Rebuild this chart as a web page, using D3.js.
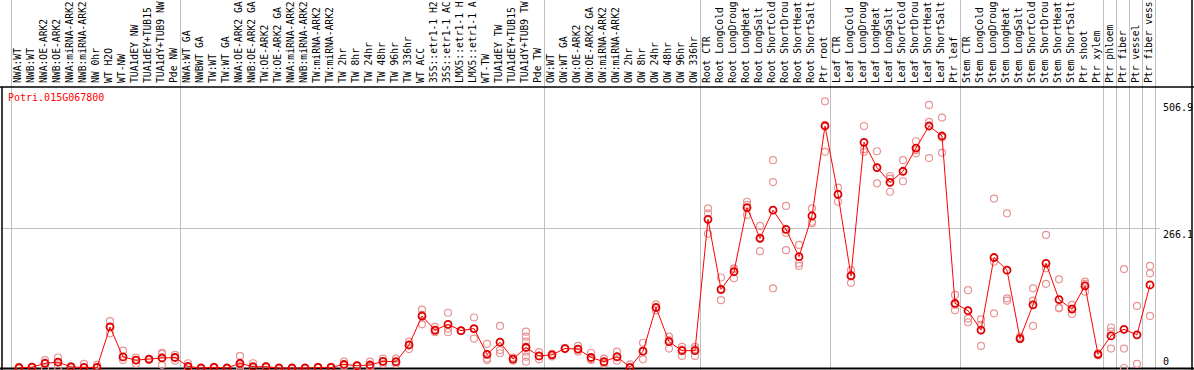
<!DOCTYPE html>
<html>
<head>
<meta charset="utf-8">
<script src="https://cdn.jsdelivr.net/npm/d3@7"></script>
<style>
body { margin: 0; background: #fff; }
svg { display: block; }
.lbl { font-family: 'DejaVu Sans Mono', monospace; font-size: 9.7px; fill: #000; }
.tick-lbl { font-family: 'DejaVu Sans Mono', monospace; font-size: 10px; fill: #000; }
.sep { stroke: #c0c0c0; stroke-width: 1; }
.border { stroke: #000; stroke-width: 1.5; }
</style>
</head>
<body>
<svg width="1194" height="370"></svg>
<script>
//Sample names, left to right (the chart shows at most 14 characters of each).
var labels = ['NWA:WT', 'NWB:WT', 'NWA:OE-ARK2', 'NWB:OE-ARK2', 'NWA:miRNA-ARK2', 'NWB:miRNA-ARK2',
	'NW 0hr', 'WT H2O', 'WT-NW', 'TUA1dEY NW', 'TUA1dEY+TUB15', 'TUA1dY+TUB9 NW', 'Pde NW',
	'NWA:WT GA', 'NWBWT GA', 'TW:WT', 'TW:WT GA', 'NWA:OE-ARK2 GA', 'NWB:OE-ARK2 GA', 'TW:OE-ARK2',
	'TW:OE-ARK2 GA', 'NWA:miRNA-ARK2 GA', 'NWB:miRNA-ARK2 GA', 'TW:miRNA-ARK2', 'TW:miRNA-ARK2 GA',
	'TW 2hr', 'TW 8hr', 'TW 24hr', 'TW 48hr', 'TW 96hr', 'TW 336hr', 'WT ACC', '35S::etr1-1 H2O', '35S::etr1-1 ACC',
	'LMX5::etr1-1 H2O', 'LMX5::etr1-1 ACC', 'WT-TW', 'TUA1dEY TW', 'TUA1dEY+TUB15', 'TUA1dY+TUB9 TW', 'Pde TW',
	'OW:WT', 'OW:WT GA', 'OW:OE-ARK2', 'OW:OE-ARK2 GA', 'OW:miRNA-ARK2', 'OW:miRNA-ARK2 GA',
	'OW 2hr', 'OW 8hr', 'OW 24hr', 'OW 48hr', 'OW 96hr', 'OW 336hr',
	'Root CTR', 'Root LongCold', 'Root LongDrought', 'Root LongHeat', 'Root LongSalt', 'Root ShortCold',
	'Root ShortDrought', 'Root ShortHeat', 'Root ShortSalt', 'Ptr root',
	'Leaf CTR', 'Leaf LongCold', 'Leaf LongDrought', 'Leaf LongHeat', 'Leaf LongSalt', 'Leaf ShortCold',
	'Leaf ShortDrought', 'Leaf ShortHeat', 'Leaf ShortSalt', 'Ptr leaf',
	'Stem CTR', 'Stem LongCold', 'Stem LongDrought', 'Stem LongHeat', 'Stem LongSalt', 'Stem ShortCold',
	'Stem ShortDrought', 'Stem ShortHeat', 'Stem ShortSalt', 'Ptr shoot',
	'Ptr xylem', 'Ptr phloem', 'Ptr fiber', 'Ptr vessel', 'Ptr fiber vessel'];
var labelChars = 14;

//Number of samples in each experiment block.
var groupSizes = [13, 28, 12, 10, 10, 11, 1, 1, 1, 1];

//Mean expression for each sample.
var means = [0.5, 1.5, 9, 11, 2, 1, 1, 78, 21, 15, 17, 19, 20,
	3, 0, 1.3, 0, 9, 2.5, 2.5, 0, 0, 0, 1, 1, 7, 4.4, 5.7, 12.7, 12, 43.7, 98.8, 72, 83, 71, 75, 26, 49, 17, 39, 23,
	25, 37, 36, 20, 12, 21.5, 1.3, 32, 115, 50, 33, 33,
	282.6, 149.5, 183, 305, 246.5, 300, 263.6, 211.6, 289, 460,
	330, 175, 429, 381, 353, 374, 418, 460, 441, 123,
	109, 72, 210, 186, 56, 120, 199, 130, 112, 156,
	26, 61, 73.5, 63, 158];

//Individual replicate values for each sample.
var replicates = [[2, 0], [1, 2], [15, 0, 9], [20, 2, 11], [1, 3], [8, 0], [6, 0], [89, 66, 78], [33, 21, 15],
	[15, 8, 20], [17, 15], [29, 27, 6, 20], [25, 20, 14],
	[9, 0], [0, 0], [2, 0], [0, 0], [23, 0, 5], [9, 0], [3, 1], [0, 0], [0, 0], [0, 0], [2, 0], [2, 0],
	[12, 4, 6], [5, 3], [12, 2, 4], [18, 8, 12], [18, 8, 11], [50, 36, 44], [111, 83, 101], [78, 70, 68],
	[105, 68, 75], [71, 70], [96, 56, 74], [46, 15, 18], [80, 34, 28], [20, 14],
	[69, 59.5, 50, 40.5, 31, 21.5, 12], [30, 16.5, 22],
	[27, 22], [38, 37], [42, 31, 35], [29, 15, 17], [18, 8, 10], [31, 14, 20], [7, 0], [48, 16.5, 32],
	[121, 115, 110], [59.5, 37, 53], [23, 40, 35], [23, 36, 40],
	[303.5, 294, 255], [172, 129, 148], [189.5, 170.5, 188], [316, 291, 310], [270, 222, 248],
	[395, 353.5, 151.5], [308, 257, 224], [234, 199, 194], [303.5, 278, 275], [506.9, 411, 462],
	[343, 316, 331], [186, 162, 177], [460, 411, 416], [412, 351, 381], [365, 335, 360],
	[395, 355, 373], [431, 408, 414], [500, 468, 399], [476, 409, 438], [139, 110, 120],
	[148, 94, 87], [92.5, 82, 42], [322, 202, 104], [294, 132.5, 128], [59.5, 55],
	[151.5, 128, 80], [253, 189.5, 160], [168.6, 113.5, 115], [120, 102.6, 113], [164, 145, 160],
	[28, 24], [77, 69, 37], [188, 37, 0], [118, 8], [194, 180, 99]];

//Values written on the right-hand axis.
var tickVals = [0, 266.1, 506.9];
var gridVals = [266.1];

var geneName = 'Potri.015G067800';

var svg = d3.select('svg'),
	width = +svg.attr('width'), height = +svg.attr('height');

var mean_color = '#ff0000', rep_color = '#e89494';

//Plot area.
var plot = {left: 2, right: 1192, top: 87, bottom: 368};
var step = 13;

var xScale = d3.scaleLinear()
	.domain([0, labels.length - 1])
	.range([19, 19 + step * (labels.length - 1)]);
var yMax = d3.max(replicates, function(r) { return d3.max(r); }) * 1.05;
var yScale = d3.scaleLinear()
	.domain([0, yMax])
	.range([plot.bottom, plot.top + 1]);

//Block separators, one at the start of each block and one after the last sample.
var starts = [0];
groupSizes.forEach(function(s, i) { starts.push(starts[i] + s); });
svg.selectAll('line.sep-v')
	.data(starts)
	.enter().append('line')
	.attr('class', 'sep')
	.attr('x1', function(d) { return Math.round(xScale(d) - 8) + 0.5; })
	.attr('x2', function(d) { return Math.round(xScale(d) - 8) + 0.5; })
	.attr('y1', 0)
	.attr('y2', height);

//Horizontal grid.
svg.selectAll('line.grid')
	.data(gridVals)
	.enter().append('line')
	.attr('class', 'sep')
	.attr('x1', plot.left)
	.attr('x2', 1160)
	.attr('y1', function(d) { return Math.round(yScale(d)) + 0.5; })
	.attr('y2', function(d) { return Math.round(yScale(d)) + 0.5; });

//Frame.
svg.append('line').attr('class', 'border')
	.attr('x1', 0).attr('x2', width).attr('y1', plot.top).attr('y2', plot.top);
svg.append('line').attr('class', 'border')
	.attr('x1', 0).attr('x2', width).attr('y1', plot.bottom + 0.5).attr('y2', plot.bottom + 0.5)
	.style('stroke-width', 2);
svg.append('line').attr('class', 'border')
	.attr('x1', plot.left).attr('x2', plot.left).attr('y1', plot.top).attr('y2', height);
svg.append('line').attr('class', 'border')
	.attr('x1', plot.right).attr('x2', plot.right).attr('y1', 0).attr('y2', height);

//Sample names, written bottom to top and cut to the shown length.
svg.selectAll('text.lbl')
	.data(labels)
	.enter().append('text')
	.attr('class', 'lbl')
	.attr('transform', function(d, i) { return 'translate(' + (xScale(i) + 2) + ',83) rotate(-90)'; })
	.text(function(d) { return d.slice(0, labelChars); });

//Replicates.
var repData = [];
replicates.forEach(function(r, i) { r.forEach(function(v) { repData.push({i: i, v: v}); }); });
svg.selectAll('circle.rep')
	.data(repData)
	.enter().append('circle')
	.attr('cx', function(d) { return xScale(d.i); })
	.attr('cy', function(d) { return yScale(d.v); })
	.attr('r', 3.5)
	.style('fill', 'none')
	.style('stroke', rep_color)
	.style('stroke-width', 1.2);

//Line through the means.
var line = d3.line()
	.x(function(d, i) { return xScale(i); })
	.y(function(d) { return yScale(d); });
svg.append('path')
	.datum(means)
	.attr('d', line)
	.style('fill', 'none')
	.style('stroke', mean_color)
	.style('stroke-width', 1);

svg.selectAll('circle.mean')
	.data(means)
	.enter().append('circle')
	.attr('cx', function(d, i) { return xScale(i); })
	.attr('cy', function(d) { return yScale(d); })
	.attr('r', 3.5)
	.style('fill', 'none')
	.style('stroke', '#e00000')
	.style('stroke-width', 1.8);

//Gene name.
svg.append('text')
	.attr('class', 'tick-lbl')
	.attr('x', 8)
	.attr('y', 101)
	.style('fill', mean_color)
	.text(geneName);

//Right-hand values.
svg.selectAll('text.tick-lbl-r')
	.data(tickVals)
	.enter().append('text')
	.attr('class', 'tick-lbl')
	.attr('x', 1163)
	.attr('y', function(d) { return Math.min(yScale(d) + 9.5, 365); })
	.text(function(d) { return d; });
</script>
</body>
</html>
